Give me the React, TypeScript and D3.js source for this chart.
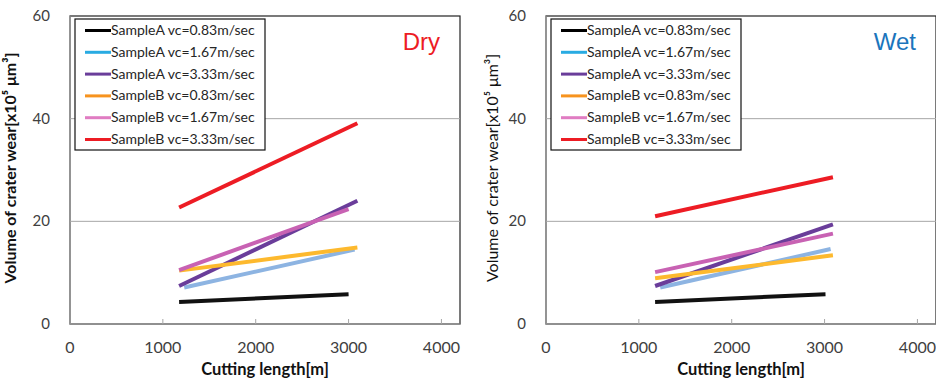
import { type RefObject, useEffect, useRef } from "react";
import * as d3 from "d3";

interface Point {
  length: number;
  volume: number;
}

interface Series {
  label: string;
  legendColor: string;
  lineColor: string;
  points: Point[];
}

const seriesLabels = [
  "SampleA vc=0.83m/sec",
  "SampleA vc=1.67m/sec",
  "SampleA vc=3.33m/sec",
  "SampleB vc=0.83m/sec",
  "SampleB vc=1.67m/sec",
  "SampleB vc=3.33m/sec",
];

const legendColors = ["#000000", "#29abe2", "#6a3d9a", "#f7931e", "#e07cc2", "#ed1c24"];
const lineColors = ["#111111", "#8db4e2", "#6a3d9a", "#fdb92e", "#c862b3", "#ed1c24"];

// [start length, start volume, end length, end volume] per series
const dryValues = [
  [1175, 4.3, 3000, 5.8],
  [1230, 7.1, 3065, 14.5],
  [1175, 7.4, 3095, 24.0],
  [1175, 10.4, 3095, 14.9],
  [1175, 10.5, 3000, 22.4],
  [1175, 22.7, 3095, 39.1],
];

const wetValues = [
  [1175, 4.3, 3010, 5.8],
  [1230, 7.1, 3065, 14.6],
  [1175, 7.4, 3090, 19.4],
  [1175, 8.9, 3090, 13.4],
  [1175, 10.1, 3090, 17.6],
  [1175, 21.0, 3090, 28.6],
];

const xTicks = [0, 1000, 2000, 3000, 4000];
const yTicks = [0, 20, 40, 60];

const toSeries = (values: number[][]): Series[] =>
  values.map((v, i) => ({
    label: seriesLabels[i],
    legendColor: legendColors[i],
    lineColor: lineColors[i],
    points: [
      { length: v[0], volume: v[1] },
      { length: v[2], volume: v[3] },
    ],
  }));

const drawPanel = (
  svg: d3.Selection<SVGSVGElement, unknown, null, undefined>,
  x0: number,
  data: Series[],
  title: string,
  titleColor: string,
  boldYTitle: boolean
) => {
  const top = 16;
  const bottom = 324;
  const width = 390;

  const xScale = d3.scaleLinear().domain([0, 4200]).range([x0, x0 + width]);
  const yScale = d3.scaleLinear().domain([0, 60]).range([bottom, top]);

  const g = svg.append("g");

  // plot frame
  g.append("rect")
    .attr("x", x0)
    .attr("y", top)
    .attr("width", width)
    .attr("height", bottom - top)
    .style("fill", "none")
    .style("stroke", "#222")
    .style("stroke-width", 1.2);

  // gridlines
  g.selectAll("line.grid")
    .data([20, 40])
    .enter()
    .append("line")
    .attr("x1", x0)
    .attr("x2", x0 + width)
    .attr("y1", (d) => yScale(d))
    .attr("y2", (d) => yScale(d))
    .style("stroke", "#a6a6a6")
    .style("stroke-width", 1);

  // axes
  g.append("line")
    .attr("x1", x0)
    .attr("x2", x0)
    .attr("y1", top)
    .attr("y2", bottom)
    .style("stroke", "#a6a6a6")
    .style("stroke-width", 1.2);
  g.append("line")
    .attr("x1", x0)
    .attr("x2", x0 + width)
    .attr("y1", bottom)
    .attr("y2", bottom)
    .style("stroke", "#a6a6a6")
    .style("stroke-width", 1.2);

  g.selectAll("line.xtick")
    .data(xTicks.slice(1))
    .enter()
    .append("line")
    .attr("x1", (d) => xScale(d))
    .attr("x2", (d) => xScale(d))
    .attr("y1", bottom)
    .attr("y2", bottom - 5)
    .style("stroke", "#a6a6a6");

  g.selectAll("text.xtick")
    .data(xTicks)
    .enter()
    .append("text")
    .attr("x", (d) => xScale(d))
    .attr("y", 353)
    .attr("text-anchor", "middle")
    .style("font-family", "Lato")
    .style("font-size", "16px")
    .style("fill", "#404040")
    .text((d) => d);

  g.selectAll("text.ytick")
    .data(yTicks)
    .enter()
    .append("text")
    .attr("x", x0 - 20)
    .attr("y", (d) => yScale(d) + 5)
    .attr("text-anchor", "end")
    .style("font-family", "Lato")
    .style("font-size", "15px")
    .style("fill", "#404040")
    .text((d) => d);

  g.append("text")
    .attr("x", x0 + width / 2)
    .attr("y", 375)
    .attr("text-anchor", "middle")
    .style("font-family", "Lato")
    .style("font-weight", "bold")
    .style("font-size", "16.5px")
    .style("fill", "#111")
    .text("Cutting length[m]");

  g.append("text")
    .attr("transform", `translate(${x0 - (boldYTitle ? 54 : 48)},168) rotate(-90)`)
    .attr("text-anchor", "middle")
    .style("font-family", "Lato")
    .style("font-weight", boldYTitle ? "bold" : "normal")
    .style("font-size", "16px")
    .style("fill", "#111")
    .text("Volume of crater wear[x10⁵ μm³]");

  // data lines
  const line = d3
    .line<Point>()
    .x((d) => xScale(d.length))
    .y((d) => yScale(d.volume));

  g.selectAll("path.series")
    .data(data)
    .enter()
    .append("path")
    .attr("d", (d) => line(d.points))
    .style("fill", "none")
    .style("stroke", (d) => d.lineColor)
    .style("stroke-width", 4);

  // legend
  const lx = x0 + 5;
  const ly = top + 3;
  g.append("rect")
    .attr("x", lx)
    .attr("y", ly)
    .attr("width", 190)
    .attr("height", 131)
    .style("fill", "#fff")
    .style("stroke", "#111")
    .style("stroke-width", 1.2);

  const rows = g
    .selectAll("g.legend")
    .data(data)
    .enter()
    .append("g")
    .attr("transform", (_, i) => `translate(${x0},${30.5 + i * 21.8})`);

  rows
    .append("line")
    .attr("x1", 15)
    .attr("x2", 41)
    .style("stroke", (d) => d.legendColor)
    .style("stroke-width", 3);

  rows
    .append("text")
    .attr("x", 41)
    .attr("y", 4.5)
    .style("font-family", "Lato")
    .style("font-size", "14px")
    .style("fill", "#262626")
    .text((d) => d.label);

  g.append("text")
    .attr("x", xScale(4200) - 20)
    .attr("y", 50)
    .attr("text-anchor", "end")
    .style("font-family", "Liberation Sans")
    .style("font-size", "24px")
    .style("fill", titleColor)
    .text(title);
};

const drawGraph = (svgRef: RefObject<SVGSVGElement>) => {
  const svg = d3.select(svgRef.current!).attr("width", 936).attr("height", 383);
  drawPanel(svg, 70, toSeries(dryValues), "Dry", "#ed1c24", true);
  drawPanel(svg, 546, toSeries(wetValues), "Wet", "#1b75bc", false);
};

const clearGraph = (svgRef: RefObject<SVGSVGElement>) => {
  d3.select(svgRef.current).selectAll("*").remove();
};

const App = () => {
  const svgRef = useRef<SVGSVGElement>(null);

  useEffect(() => {
    drawGraph(svgRef);
    return () => {
      clearGraph(svgRef);
    };
  }, [svgRef]);

  return (
    <svg
      ref={svgRef}
      style={{ position: "absolute", left: 0, top: 0, background: "#fff" }}
    ></svg>
  );
};

export default App;
